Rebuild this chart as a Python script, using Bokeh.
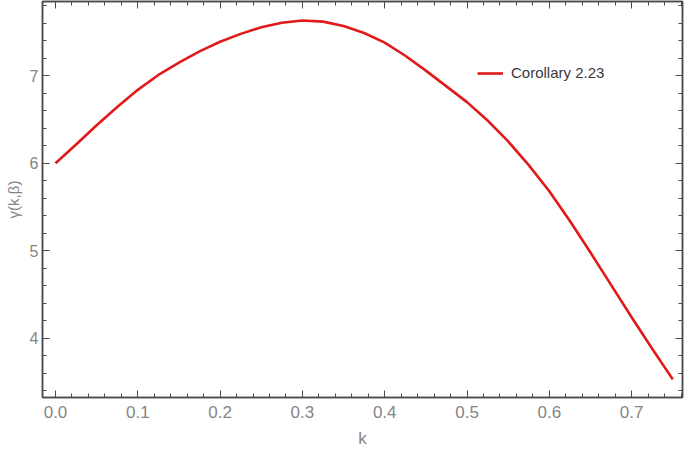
from bokeh.plotting import figure
from bokeh.models import SingleIntervalTicker, LinearAxis, Range1d, CustomLabelingPolicy
from bokeh.embed import file_html
from bokeh.resources import INLINE

# ---- data ----
k_values = [0.0, 0.025, 0.05, 0.075, 0.1, 0.125, 0.15, 0.175, 0.2, 0.225,
            0.25, 0.275, 0.3, 0.325, 0.35, 0.375, 0.4, 0.425, 0.45, 0.475,
            0.5, 0.525, 0.55, 0.575, 0.6, 0.625, 0.65, 0.675, 0.7, 0.725, 0.75]
gamma_values = [6.00, 6.215, 6.435, 6.645, 6.84, 7.01, 7.15, 7.28, 7.39, 7.48,
                7.555, 7.607, 7.633, 7.62, 7.57, 7.49, 7.38, 7.23, 7.06, 6.88,
                6.70, 6.49, 6.25, 5.98, 5.68, 5.34, 4.98, 4.61, 4.24, 3.88, 3.53]
x_ticks = [0.0, 0.1, 0.2, 0.3, 0.4, 0.5, 0.6, 0.7]
x_tick_labels = ["0.0", "0.1", "0.2", "0.3", "0.4", "0.5", "0.6", "0.7"]
y_ticks = [4, 5, 6, 7]
y_tick_labels = ["4", "5", "6", "7"]
series_name = "Corollary 2.23"
x_title = "k"
y_title = "γ(k,β)"

FRAME = "#4a4a4a"
LABEL = "#858585"
FONT = "Liberation Sans"

p = figure(width=685, height=451, output_backend="svg", toolbar_location=None,
           x_range=Range1d(-0.0158, 0.7618), y_range=Range1d(3.323, 7.85),
           min_border_left=42, min_border_right=3, min_border_top=1,
           min_border_bottom=54)
p.xgrid.visible = False
p.ygrid.visible = False
p.outline_line_color = FRAME
p.outline_line_width = 1.5
p.background_fill_color = "white"
p.border_fill_color = "white"

r = p.line(k_values, gamma_values, line_color="#e01a1a", line_width=2.6,
           legend_label=series_name)

no_labels = CustomLabelingPolicy(code="for (const i of indices) { if (i < 0) yield i }")


def style_axis(ax, interval, labels, ticks, show_labels):
    ax.ticker = SingleIntervalTicker(interval=interval, num_minor_ticks=5)
    ax.axis_line_color = FRAME
    ax.axis_line_width = 1.5
    ax.major_tick_line_color = FRAME
    ax.minor_tick_line_color = FRAME
    ax.major_tick_in = 7
    ax.major_tick_out = 0
    ax.minor_tick_in = 4
    ax.minor_tick_out = 0
    ax.major_label_text_font = FONT
    ax.major_label_text_color = LABEL
    if show_labels:
        ax.major_label_overrides = {t: l for t, l in zip(ticks, labels)}
    else:
        ax.major_label_policy = no_labels
        ax.major_label_text_font_size = "0px"
        ax.major_label_standoff = 0


xa = p.xaxis[0]
style_axis(xa, 0.1, x_tick_labels, x_ticks, True)
xa.major_label_text_font_size = "17px"
xa.major_label_standoff = 8
xa.axis_label = x_title
xa.axis_label_text_font = FONT
xa.axis_label_text_font_size = "17px"
xa.axis_label_text_font_style = "normal"
xa.axis_label_text_color = LABEL
xa.axis_label_standoff = 8

ya = p.yaxis[0]
style_axis(ya, 1, y_tick_labels, y_ticks, True)
ya.major_label_text_font_size = "16px"
ya.major_label_standoff = 4
ya.axis_label = y_title
ya.axis_label_text_font = FONT
ya.axis_label_text_font_size = "15px"
ya.axis_label_text_font_style = "normal"
ya.axis_label_text_color = LABEL
ya.axis_label_standoff = 5

top = LinearAxis()
style_axis(top, 0.1, x_tick_labels, x_ticks, False)
p.add_layout(top, "above")
right = LinearAxis()
style_axis(right, 1, y_tick_labels, y_ticks, False)
p.add_layout(right, "right")

lg = p.legend[0]
lg.location = (435, 316)
lg.padding = 0
lg.margin = 0
lg.spacing = 0
lg.glyph_width = 26
lg.glyph_height = 16
lg.label_standoff = 8
lg.label_text_font = FONT
lg.label_text_font_size = "15px"
lg.label_text_color = "#3a3a3a"
lg.border_line_alpha = 0
lg.background_fill_alpha = 0

open("out.html", "w").write(file_html(p, INLINE))
